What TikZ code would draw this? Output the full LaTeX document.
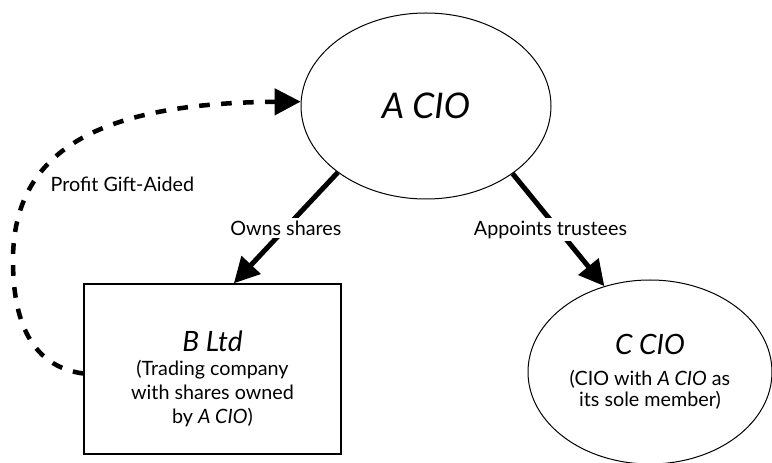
\documentclass[tikz,border=0pt]{standalone}
\usepackage{fontspec}
\setmainfont{Lato}
\usetikzlibrary{arrows.meta,shapes.geometric}

\begin{document}
\begin{tikzpicture}[x=0.75pt,y=-0.75pt]
		\tikzstyle{every node}=[font=\fontsize{14.8pt}{18pt}\selectfont]
		\tikzstyle{cio}=[draw, line width=0.75pt, ellipse, inner sep=0pt, align=center]
		\tikzstyle{company}=[draw, line width=1pt, rectangle, inner sep=0pt, align=center, minimum width=192.75pt, minimum height=127.5pt]
		\tikzstyle{link}=[line width=3.75pt, -{Triangle[length=19pt, width=19pt]}]
		\tikzstyle{gift}=[line width=3.4pt, dash pattern=on 8pt off 8.5pt, -{Triangle[length=19.5pt, width=19.5pt]}]
		\tikzstyle{linklabel}=[pos=0.5, fill=white, inner xsep=2pt, inner ysep=2pt]
		
		\useasboundingbox (0,0) rectangle (772,463);
		\clip (0,0) rectangle (772,463);
		
		\node[cio, minimum width=187.5pt, minimum height=139.5pt] (acio) at (426,106)
		{\fontsize{26.5pt}{30pt}\selectfont\itshape A CIO};
		
		\node[company] (bltd) at (212.5,369)
		{\rule{0pt}{30pt}{\fontsize{21pt}{22pt}\selectfont\itshape B Ltd}\\(Trading company\\with shares owned\\by \textit{A CIO})};
		
		\node[cio, minimum width=183pt, minimum height=138pt, font=\fontsize{14.8pt}{16pt}\selectfont] (ccio) at (650,372)
		{{\fontsize{21pt}{22pt}\selectfont\itshape C CIO}\\[7pt](CIO with \textit{A CIO} as\\its sole member)};
		
		\draw[link] (acio.217) -- (bltd.76)
		node[linklabel]{Owns shares};
		
		\draw[link] (acio.-38) -- (ccio.118)
		node[linklabel, xshift=-6pt]{Appoints trustees};
		
		\draw[gift] (bltd.182) .. controls (20,365) and (13,300) .. (13,260)
		.. controls (13,150) and (100,103) .. (acio.178);
		
		\node[anchor=west] (giftlabel) at (46,184) {Profit Gift-Aided};
		
	\end{tikzpicture}
\end{document}
